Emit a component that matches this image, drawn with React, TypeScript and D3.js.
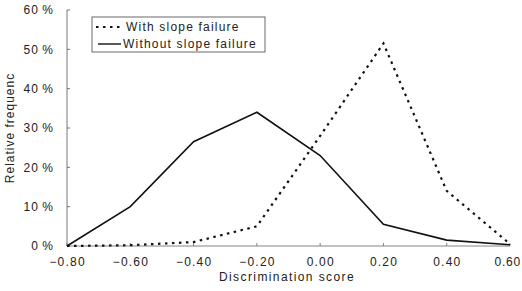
import React from "react";
import * as d3 from "d3";

const scores = [-0.8, -0.6, -0.4, -0.2, 0.0, 0.2, 0.4, 0.6];
const withSlopeFailure = [0, 0.2, 1, 5, 28, 51.5, 14, 0.5];
const withoutSlopeFailure = [0, 10, 26.5, 34, 23, 5.5, 1.5, 0.3];
const yTicks = [0, 10, 20, 30, 40, 50, 60];
const legendLabels = ["With slope failure", "Without slope failure"];

const W = 522;
const H = 291;
const M = { left: 67, right: 12, top: 10, bottom: 45 };

export default function App() {
  const x = d3.scaleLinear().domain([-0.8, 0.6]).range([M.left, W - M.right]);
  const y = d3.scaleLinear().domain([0, 60]).range([H - M.bottom, M.top]);

  const line = d3
    .line<number>()
    .x((_, i) => x(scores[i]))
    .y((d) => y(d));

  const font = "Liberation Sans, Arial, sans-serif";

  return (
    <svg
      width={W}
      height={H}
      style={{ position: "absolute", left: 0, top: 0, background: "#fff" }}
      fontFamily={font}
    >
      {/* axes */}
      <line x1={M.left} x2={M.left} y1={y(60)} y2={y(0)} stroke="#555" strokeWidth={0.8} />
      <line x1={M.left} x2={x(0.6)} y1={y(0)} y2={y(0)} stroke="#666" strokeWidth={0.8} />
      {yTicks.map((t) => (
        <g key={t}>
          <line x1={M.left} x2={M.left + 3} y1={y(t)} y2={y(t)} stroke="#555" strokeWidth={0.8} />
          <text x={54} y={y(t)} dy="0.35em" textAnchor="end" fontSize={12} letterSpacing={1} fill="#222">
            {t}{"\u2009"}%
          </text>
        </g>
      ))}
      {scores.map((s, i) => {
        const last = i === scores.length - 1;
        return (
          <g key={s}>
            <line x1={x(s)} x2={x(s)} y1={y(0)} y2={y(0) - 3} stroke="#666" strokeWidth={0.8} />
            <text
              x={last ? W - 1 : x(s) + 0.6}
              y={y(0) + 20}
              textAnchor={last ? "end" : "middle"}
              fontSize={12}
              letterSpacing={last ? 0.8 : 1.2}
              fill="#222"
            >
              {d3.format(".2f")(s).replace("-", "\u2212")}
            </text>
          </g>
        );
      })}
      <text x={287} y={281} textAnchor="middle" fontSize={12} letterSpacing={1.4} fill="#222">
        Discrimination score
      </text>
      <text
        transform={`translate(14,${(y(0) + y(60)) / 2}) rotate(-90)`}
        textAnchor="middle"
        fontSize={12}
        letterSpacing={1}
        fill="#222"
      >
        Relative frequenc
      </text>

      {/* series */}
      <path
        d={line(withSlopeFailure) ?? ""}
        fill="none"
        stroke="#111"
        strokeWidth={2.2}
        strokeDasharray="2.5 4.5"
      />
      <path d={line(withoutSlopeFailure) ?? ""} fill="none" stroke="#111" strokeWidth={1.6} />

      {/* legend */}
      <rect x={92} y={17} width={173} height={35} fill="#fff" stroke="#444" strokeWidth={0.8} />
      <line x1={96} x2={122} y1={27} y2={27} stroke="#111" strokeWidth={2} strokeDasharray="2.5 4.5" />
      <line x1={98} x2={121} y1={44} y2={44} stroke="#111" strokeWidth={1.4} />
      <text x={126} y={27} dy="0.35em" fontSize={12} letterSpacing={1.2} fill="#222">
        {legendLabels[0]}
      </text>
      <text x={123} y={44} dy="0.35em" fontSize={12} letterSpacing={1.2} fill="#222">
        {legendLabels[1]}
      </text>
    </svg>
  );
}
